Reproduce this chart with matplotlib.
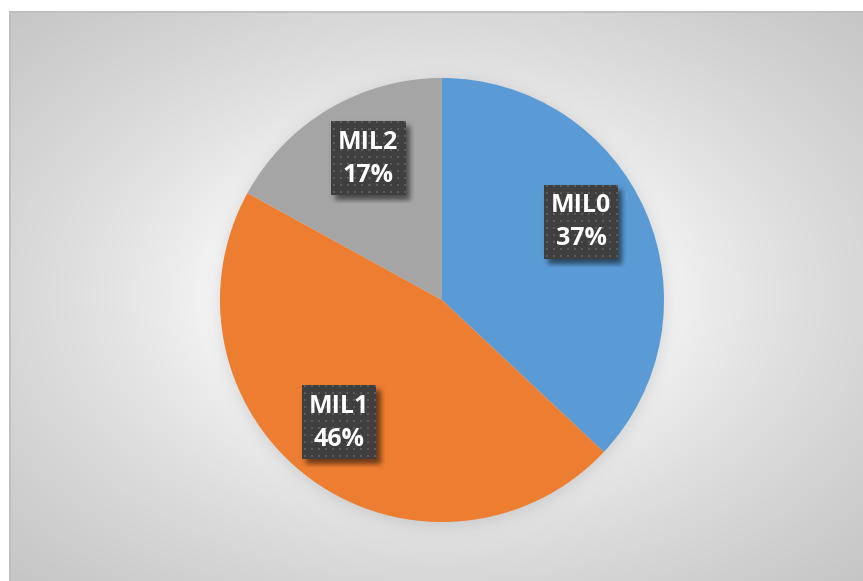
import numpy as np
import matplotlib
matplotlib.use("Agg")
import matplotlib.pyplot as plt
from matplotlib.patches import Rectangle

# shares of each MIL class (percent)
labels = ["MIL0", "MIL1", "MIL2"]
shares = [37, 46, 17]
colors = ["#5B9BD5", "#ED7D31", "#A5A5A5"]

# canvas is in pixels, y measured upward
W, H = 863, 581
cx, cy, R = 442, H - 300, 222
label_dist = 0.72
label_nudge = [6, -4, -3]   # degrees, keeps labels clear of wedge edges
box_w, box_h = 74, 74

fig = plt.figure(figsize=(W / 100, H / 100), dpi=100)
ax = fig.add_axes([0, 0, 1, 1])

# chart area background: soft radial gradient, white in the middle
x0, y_top = 9, H - 11
xs = np.linspace(x0, W, 400)
ys = np.linspace(0, y_top, 300)
gx, gy = np.meshgrid(xs, ys)
d = np.sqrt(((gx - 436) / 427) ** 2 + ((gy - (H - 295)) / 285) ** 2) / np.sqrt(2)
f = np.clip((d - 0.36) / 0.64, 0, 1) ** 0.75
shade = 0.965 - 0.19 * f
ax.imshow(np.dstack([shade] * 3), extent=(x0, W, 0, y_top), origin="lower",
          interpolation="bilinear", zorder=0, aspect="auto")
ax.add_patch(Rectangle((x0 + 0.5, -5), W, y_top + 5 - 0.5, fill=False,
                       edgecolor="#bdbdbd", linewidth=1.2, zorder=0.5))

# soft shadow under the pie
sx = np.arange(cx - R - 40, cx + R + 40)
sy = np.arange(cy - R - 40, cy + R + 40)
mx, my = np.meshgrid(sx, sy)
rr = np.sqrt((mx - cx) ** 2 + (my - (cy - 3)) ** 2)
alpha = 0.16 / (1 + np.exp((rr - R - 2) / 4.0))
sh = np.zeros(rr.shape + (4,))
sh[..., :3] = 0.35
sh[..., 3] = alpha
ax.imshow(sh, extent=(sx[0], sx[-1], sy[0], sy[-1]), origin="lower",
          interpolation="bilinear", zorder=1, aspect="auto")

wedges, _ = ax.pie(shares, colors=colors, startangle=90, counterclock=False,
                   center=(cx, cy), radius=R, wedgeprops=dict(linewidth=0))
for w in wedges:
    w.set_zorder(2)

# dotted dark fill for the data label boxes
tile = np.full((box_h, box_w, 3), 0.25)
for i in range(2, box_h - 1, 7):
    for j in range(2, box_w - 1, 7):
        tile[i:i + 2, j:j + 2] = 0.36

# blurred drop shadow for the boxes, offset down and right
pad = 8
sbx = np.arange(-pad, box_w + pad) + 0.5
sby = np.arange(-pad, box_h + pad) + 0.5
bxx, byy = np.meshgrid(sbx, sby)
ox, oy = 4, -5
def edge(t, lo, hi):
    return 1 / (1 + np.exp(-(t - lo) / 1.6)) * 1 / (1 + np.exp((t - hi) / 1.6))
box_shadow = np.zeros(bxx.shape + (4,))
box_shadow[..., 3] = 0.55 * edge(bxx, ox, box_w + ox) * edge(byy, oy, box_h + oy)

total = float(sum(shares))
cum = 0.0
for lab, v, nud in zip(labels, shares, label_nudge):
    mid = 90 - 360 * (cum + v / 2) / total + nud
    cum += v
    lx = cx + label_dist * R * np.cos(np.radians(mid))
    ly = cy + label_dist * R * np.sin(np.radians(mid))
    bx, by = lx - box_w / 2, ly - box_h / 2
    ax.imshow(box_shadow, extent=(bx - pad, bx + box_w + pad, by - pad, by + box_h + pad),
              origin="lower", interpolation="bilinear", zorder=3, aspect="auto")
    ax.imshow(tile, extent=(bx, bx + box_w, by, by + box_h), origin="lower",
              interpolation="nearest", zorder=4, aspect="auto")
    ax.text(lx, ly + 16, lab, color="white", fontsize=18, fontweight="bold",
            family=["Open Sans", "DejaVu Sans"], ha="center", va="center", zorder=5)
    ax.text(lx, ly - 17, f"{v}%", color="white", fontsize=18, fontweight="bold",
            family=["Open Sans", "DejaVu Sans"], ha="center", va="center", zorder=5)

ax.set_xlim(0, W)
ax.set_ylim(0, H)
ax.set_aspect("auto")
ax.axis("off")
fig.patch.set_facecolor("white")
fig.savefig("out.png", dpi=100, facecolor="white")
